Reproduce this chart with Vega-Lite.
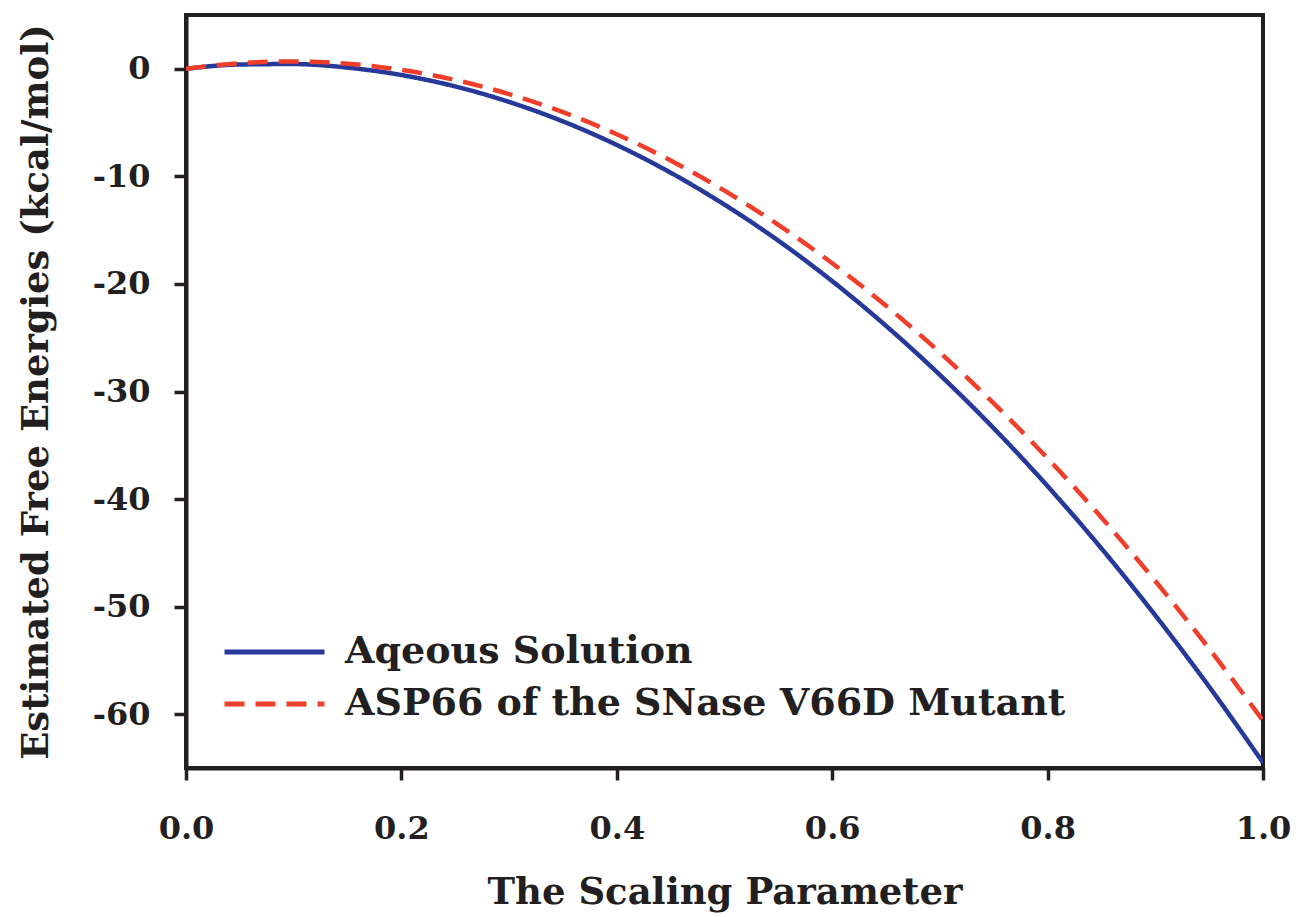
{
  "$schema": "https://vega.github.io/schema/vega-lite/v6.json",
  "width": 1077,
  "height": 753,
  "autosize": "none",
  "padding": {"left": 186, "top": 15, "right": 38, "bottom": 149},
  "background": "white",
  "data": {"values": [
    {"x": 0.0, "y": 0.0, "series": "Aqeous Solution"},
    {"x": 0.05, "y": 0.40, "series": "Aqeous Solution"},
    {"x": 0.1, "y": 0.44, "series": "Aqeous Solution"},
    {"x": 0.15, "y": 0.11, "series": "Aqeous Solution"},
    {"x": 0.2, "y": -0.58, "series": "Aqeous Solution"},
    {"x": 0.25, "y": -1.64, "series": "Aqeous Solution"},
    {"x": 0.3, "y": -3.08, "series": "Aqeous Solution"},
    {"x": 0.35, "y": -4.89, "series": "Aqeous Solution"},
    {"x": 0.4, "y": -7.08, "series": "Aqeous Solution"},
    {"x": 0.45, "y": -9.66, "series": "Aqeous Solution"},
    {"x": 0.5, "y": -12.63, "series": "Aqeous Solution"},
    {"x": 0.55, "y": -15.98, "series": "Aqeous Solution"},
    {"x": 0.6, "y": -19.74, "series": "Aqeous Solution"},
    {"x": 0.65, "y": -23.90, "series": "Aqeous Solution"},
    {"x": 0.7, "y": -28.46, "series": "Aqeous Solution"},
    {"x": 0.75, "y": -33.42, "series": "Aqeous Solution"},
    {"x": 0.8, "y": -38.80, "series": "Aqeous Solution"},
    {"x": 0.85, "y": -44.59, "series": "Aqeous Solution"},
    {"x": 0.9, "y": -50.81, "series": "Aqeous Solution"},
    {"x": 0.95, "y": -57.44, "series": "Aqeous Solution"},
    {"x": 1.0, "y": -64.5, "series": "Aqeous Solution"},
    {"x": 0.0, "y": 0.0, "series": "ASP66 of the SNase V66D Mutant"},
    {"x": 0.05, "y": 0.52, "series": "ASP66 of the SNase V66D Mutant"},
    {"x": 0.1, "y": 0.68, "series": "ASP66 of the SNase V66D Mutant"},
    {"x": 0.15, "y": 0.47, "series": "ASP66 of the SNase V66D Mutant"},
    {"x": 0.2, "y": -0.10, "series": "ASP66 of the SNase V66D Mutant"},
    {"x": 0.25, "y": -1.04, "series": "ASP66 of the SNase V66D Mutant"},
    {"x": 0.3, "y": -2.35, "series": "ASP66 of the SNase V66D Mutant"},
    {"x": 0.35, "y": -4.03, "series": "ASP66 of the SNase V66D Mutant"},
    {"x": 0.4, "y": -6.09, "series": "ASP66 of the SNase V66D Mutant"},
    {"x": 0.45, "y": -8.52, "series": "ASP66 of the SNase V66D Mutant"},
    {"x": 0.5, "y": -11.33, "series": "ASP66 of the SNase V66D Mutant"},
    {"x": 0.55, "y": -14.51, "series": "ASP66 of the SNase V66D Mutant"},
    {"x": 0.6, "y": -18.08, "series": "ASP66 of the SNase V66D Mutant"},
    {"x": 0.65, "y": -22.03, "series": "ASP66 of the SNase V66D Mutant"},
    {"x": 0.7, "y": -26.37, "series": "ASP66 of the SNase V66D Mutant"},
    {"x": 0.75, "y": -31.10, "series": "ASP66 of the SNase V66D Mutant"},
    {"x": 0.8, "y": -36.21, "series": "ASP66 of the SNase V66D Mutant"},
    {"x": 0.85, "y": -41.72, "series": "ASP66 of the SNase V66D Mutant"},
    {"x": 0.9, "y": -47.62, "series": "ASP66 of the SNase V66D Mutant"},
    {"x": 0.95, "y": -53.91, "series": "ASP66 of the SNase V66D Mutant"},
    {"x": 1.0, "y": -60.6, "series": "ASP66 of the SNase V66D Mutant"}
  ]},
  "mark": {"type": "line", "interpolate": "monotone", "strokeWidth": 4.5, "clip": true},
  "encoding": {
    "x": {
      "field": "x", "type": "quantitative",
      "scale": {"domain": [0, 1], "nice": false, "zero": false},
      "axis": {
        "title": "The Scaling Parameter",
        "values": [0, 0.2, 0.4, 0.6, 0.8, 1.0],
        "format": ".1f",
        "labelFlush": false,
        "tickSize": 12,
        "labelPadding": 33,
        "titlePadding": 30
      }
    },
    "y": {
      "field": "y", "type": "quantitative",
      "scale": {"domain": [-65, 5], "nice": false, "zero": false},
      "axis": {
        "title": "Estimated Free Energies (kcal/mol)",
        "values": [0, -10, -20, -30, -40, -50, -60],
        "labelExpr": "datum.value == 0 ? '0' : '-' + abs(datum.value)",
        "tickSize": 12,
        "labelPadding": 24,
        "titlePadding": 37
      }
    },
    "color": {
      "field": "series", "type": "nominal",
      "scale": {"domain": ["Aqeous Solution", "ASP66 of the SNase V66D Mutant"], "range": ["#26399a", "#f03e2a"]},
      "legend": {
        "title": null,
        "orient": "none",
        "legendX": 36,
        "legendY": 612,
        "symbolType": "stroke",
        "symbolSize": 10000,
        "symbolStrokeWidth": 5,
        "clipHeight": 50,
        "labelFont": "DejaVu Serif",
        "labelFontWeight": "bold",
        "labelFontSize": 38,
        "labelColor": "#231f20",
        "labelOffset": 18,
        "rowPadding": 2,
        "labelLimit": 900
      }
    },
    "strokeDash": {
      "field": "series", "type": "nominal",
      "scale": {"domain": ["Aqeous Solution", "ASP66 of the SNase V66D Mutant"], "range": [[1, 0], [20, 11]]},
      "legend": null
    }
  },
  "config": {
    "view": {"stroke": "#231f20", "strokeWidth": 4},
    "axis": {
      "domainColor": "#231f20",
      "domainWidth": 4,
      "tickColor": "#231f20",
      "tickWidth": 3.5,
      "grid": false,
      "labelFont": "DejaVu Serif",
      "labelFontWeight": "bold",
      "labelFontSize": 32,
      "labelColor": "#231f20",
      "titleFont": "DejaVu Serif",
      "titleFontWeight": "bold",
      "titleFontSize": 37,
      "titleColor": "#231f20"
    }
  }
}
